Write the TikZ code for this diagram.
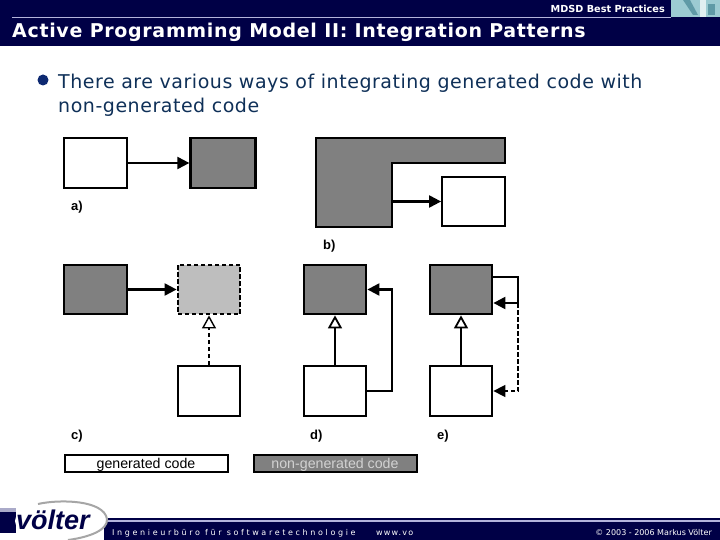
\documentclass[tikz,border=0pt]{standalone}
\usepackage{fontspec}
\setmainfont{DejaVu Sans}
\newfontfamily\figfont{Liberation Sans}
\usetikzlibrary{arrows.meta}
\definecolor{navy}{HTML}{000046}
\definecolor{lavender}{HTML}{B4B4DC}
\definecolor{bodyblue}{HTML}{0F3058}
\definecolor{gen}{HTML}{808080}
\definecolor{shadow}{HTML}{BEBEBE}
\definecolor{teal1}{HTML}{9CCBD2}
\definecolor{teal2}{HTML}{5F9AA6}

\tikzset{
    box/.style={rectangle, draw=black, line width=2.3pt, minimum width=62.5pt, minimum height=49.5pt, inner sep=0pt},
    white box/.style={box, fill=white},
    gray box/.style={box, fill=gen},
    use/.style={line width=2.2pt, -{Triangle[length=12pt, width=12pt]}},
    inherit/.style={line width=1.8pt, -{Triangle[open, fill=white, length=13pt, width=14pt]}},
    long dash/.style={dash pattern=on 4.5pt off 2.5pt},
    tag/.style={font=\figfont\bfseries\fontsize{13}{13}\selectfont, anchor=base west, inner sep=0pt},
    legend/.style={rectangle, draw=black, line width=2pt, minimum width=163pt, minimum height=17pt, inner sep=0pt, text height=11pt, text depth=0pt, font=\figfont\fontsize{14.2}{14.2}\selectfont},
    body/.style={anchor=base west, text=bodyblue, inner sep=0pt, font=\fontsize{19}{19}\selectfont\addfontfeature{LetterSpace=2.8}}
}

\begin{document}
\begin{tikzpicture}[x=1pt, y=-1pt]
    \useasboundingbox (0,0) rectangle (720,540);

    % Header
    \fill[navy] (0,0) rectangle (720,46);
    \fill[lavender] (12,17) rectangle (671,18.5);
    \node[anchor=base east, text=white, inner sep=0pt, font=\bfseries\fontsize{9.7}{9.7}\selectfont] (section) at (665,13) {MDSD Best Practices};
    \node[anchor=base west, text=white, inner sep=0pt, font=\bfseries\fontsize{19}{19}\selectfont\addfontfeature{LetterSpace=3.6}] (title) at (12,38) {Active Programming Model II: Integration Patterns};
    % Corner picture
    \fill[teal1] (671,0) rectangle (720,17);
    \fill[teal2] (683,0) -- (690,0) -- (698,15) -- (693,15) -- cycle;
    \fill[white!70!teal1] (700,0) rectangle (706,17);
    \fill[teal2] (708,4) rectangle (715,15);

    % Bullet
    \fill[bodyblue!85!blue] (43,80) circle (5.5);
    \node[body] (line1) at (58,89) {There are various ways of integrating generated code with};
    \node[body] (line2) at (58,113) {non-generated code};

    % a)
    \node[white box] (a1) at (95.5,163) {};
    \node[gray box, minimum width=65pt] (a2) at (223,163) {};
    \draw[use] (a1) -- (a2);
    \node[tag] (la) at (71,211) {a)};

    % b)
    \draw[fill=gen, line width=2.3pt, line join=miter] (316,138) -- (505,138) -- (505,163) -- (392,163) -- (392,227) -- (316,227) -- cycle;
    \coordinate (b1) at (392,201.5);
    \node[white box] (b2) at (473.5,201.5) {};
    \draw[use] (b1) -- (b2);
    \node[tag] (lb) at (323,249) {b)};

    % c)
    \node[gray box] (c1) at (95.5,289.5) {};
    \node[box, fill=shadow, long dash] (c2) at (209,289.5) {};
    \node[white box] (c3) at (209,391) {};
    \draw[use] (c1) -- (c2);
    \draw[inherit, long dash, line width=1.4pt] (c3) -- (c2);
    \node[tag] (lc) at (71,439) {c)};

    % d)
    \node[gray box] (d1) at (335,289.5) {};
    \node[white box] (d2) at (335,391) {};
    \coordinate (dturn) at (392,340);
    \draw[inherit] (d2) -- (d1);
    \draw[use] (d2.east) -| (dturn) |- (d1.east);
    \node[tag] (ld) at (310,439) {d)};

    % e)
    \node[gray box] (e1) at (461,289.5) {};
    \node[white box] (e2) at (461,391) {};
    \coordinate (eturn) at (518,303);
    \draw[inherit] (e2) -- (e1);
    \draw[use] ([yshift=12.5pt]e1.east) -| (eturn) -- ([yshift=-13.5pt]e1.east);
    \draw[use, long dash, line width=1.6pt] (eturn) |- (e2.east);
    \node[tag] (le) at (437,439) {e)};

    % Legend
    \node[legend, fill=white] (generated) at (146,463) {generated code};
    \node[legend, fill=gen, text=shadow!70!white] (nongenerated) at (335,463) {non-generated code};

    % Footer
    \fill[navy] (104,518) rectangle (720,540);
    \fill[lavender] (104,520) rectangle (720,522);
    \fill[navy] (0,508) rectangle (16,533);
    \fill[lavender!80!gray] (0,508) rectangle (16,512);
    \fill[white] (61,521) ellipse (46 and 19);
    \draw[gray!70, line width=2pt] (38,504) .. controls (60,499) and (104,500) .. (107,519) .. controls (108,530) and (90,537) .. (68,540);
    \node[anchor=base west, text=navy, inner sep=0pt, font=\figfont\bfseries\itshape\fontsize{27}{27}\selectfont] (logo) at (16,529) {völter};
    \node[anchor=base west, text=white, inner sep=0pt, font=\fontsize{8}{8}\selectfont\addfontfeature{LetterSpace=33}] (firm) at (112,535) {Ingenieurbüro für softwaretechnologie};
    \node[anchor=base west, text=white, inner sep=0pt, font=\fontsize{8}{8}\selectfont\addfontfeature{LetterSpace=15}] (web) at (376,535) {www.vo};
    \node[anchor=base east, text=white, inner sep=0pt, font=\fontsize{8}{8}\selectfont] (copy) at (712,535) {© 2003 - 2006 Markus Völter};
\end{tikzpicture}
\end{document}
